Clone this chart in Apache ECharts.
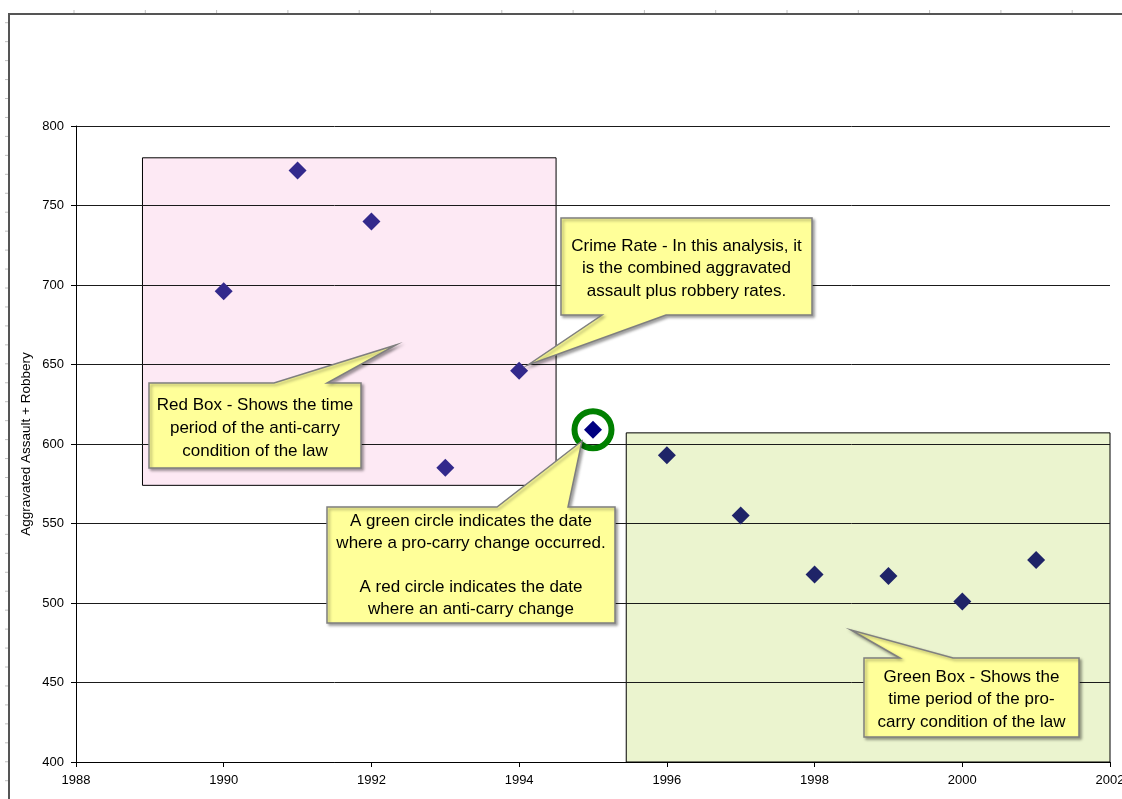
<!DOCTYPE html>
<html>
<head>
<meta charset="utf-8">
<script src="https://cdn.jsdelivr.net/npm/echarts@6/dist/echarts.min.js"></script>
<style>
  html, body { margin: 0; padding: 0; background: #fff; }
  #chart { width: 1122px; height: 799px; }
</style>
</head>
<body>
<div id="chart"></div>
<script>
// ---- data ----
const years = [1990, 1991, 1992, 1993, 1994, 1995, 1996, 1997, 1998, 1999, 2000, 2001];
const crimeRate = [696, 772, 740, 585, 646, 609, 593, 555, 518, 517, 501, 527];
const proCarryChangeYears = [1995];
// boxes: [xStart, xEnd, yStart, yEnd]
const antiCarryBox = [1988.9, 1994.5, 574, 780];
const proCarryBox = [1995.45, 2002, 400, 607];
const yAxisName = 'Aggravated Assault + Robbery';

const calloutTexts = {
  crime: ['Crime Rate - In this analysis, it', 'is the combined aggravated', 'assault plus robbery rates.'],
  red: ['Red Box - Shows the time', 'period of the anti-carry', 'condition of the law'],
  circle: ['A green circle indicates the date', 'where a pro-carry change occurred.', '', 'A red circle indicates the date', 'where an anti-carry change'],
  green: ['Green Box - Shows the', 'time period of the pro-', 'carry condition of the law']
};

const points = years.map((y, i) => [y, crimeRate[i]]);
const ringPoints = proCarryChangeYears.map(y => [y, crimeRate[years.indexOf(y)]]);

const FONT = 'Arial, "Liberation Sans", sans-serif';
const chart = echarts.init(document.getElementById('chart'));

chart.setOption({
  animation: false,
  backgroundColor: '#ffffff',
  grid: { left: 76, right: 12, top: 126, bottom: 37, containLabel: false, outerBoundsMode: 'none' },
  xAxis: {
    type: 'value', min: 1988, max: 2002, interval: 2,
    axisLine: { show: true, lineStyle: { color: '#000', width: 1 } },
    axisTick: { show: true, length: 5, lineStyle: { color: '#000' } },
    splitLine: { show: false },
    axisLabel: { color: '#000', fontSize: 13, fontFamily: FONT, margin: 12, formatter: v => String(v), hideOverlap: false }
  },
  yAxis: {
    type: 'value', min: 400, max: 800, interval: 50,
    name: yAxisName, nameLocation: 'middle', nameGap: 43, nameMoveOverlap: false,
    nameTextStyle: { color: '#000', fontSize: 13.5, fontFamily: FONT },
    axisLine: { show: true, lineStyle: { color: '#000', width: 1 } },
    axisTick: { show: true, length: 5, lineStyle: { color: '#000' } },
    splitLine: { show: true, lineStyle: { color: '#1a1a1a', width: 1 } },
    axisLabel: { color: '#000', fontSize: 13, fontFamily: FONT, margin: 12, formatter: v => String(v) }
  },
  series: [
    {
      type: 'custom',
      z: -1,
      silent: true,
      data: [antiCarryBox.concat([0]), proCarryBox.concat([1])],
      renderItem: function (params, api) {
        const p0 = api.coord([api.value(0), api.value(3)]);
        const p1 = api.coord([api.value(1), api.value(2)]);
        const fills = ['#fde9f4', '#ebf4cf'];
        return {
          type: 'rect',
          shape: { x: p0[0], y: p0[1], width: p1[0] - p0[0], height: p1[1] - p0[1] },
          style: { fill: fills[api.value(4)], stroke: '#000', lineWidth: 1 }
        };
      },
      encode: { x: [0, 1], y: [2, 3] }
    },
    {
      type: 'scatter',
      data: ringPoints,
      symbol: 'circle',
      symbolSize: 37,
      z: 3,
      itemStyle: { color: 'rgba(0,0,0,0)', borderColor: '#008000', borderWidth: 6, opacity: 1 },
      silent: true
    },
    {
      type: 'scatter',
      data: points,
      symbol: 'diamond',
      symbolSize: 18,
      z: 4,
      itemStyle: {
        opacity: 1,
        color: function (p) {
          const yr = p.value[0];
          if (yr <= 1994) return '#33298c';
          if (proCarryChangeYears.indexOf(yr) >= 0) return '#000080';
          return '#1f2468';
        }
      }
    }
  ]
});

// ---- annotations (callouts) ----
function callout(box, wedge, side, lines, textTop, lh) {
  const [x0, y0, x1, y1] = box;
  const [wa, wb, tx, ty] = wedge;
  let pts;
  if (side === 'top') {
    pts = [[x0, y0], [wa, y0], [tx, ty], [wb, y0], [x1, y0], [x1, y1], [x0, y1]];
  } else {
    pts = [[x0, y0], [x1, y0], [x1, y1], [wb, y1], [tx, ty], [wa, y1], [x0, y1]];
  }
  const cx = (x0 + x1) / 2;
  const els = [{
    type: 'polygon', z: 100,
    shape: { points: pts },
    style: {
      fill: '#ffff99', stroke: '#7f7f7f', lineWidth: 1.5,
      shadowBlur: 3, shadowOffsetX: 2, shadowOffsetY: 2, shadowColor: 'rgba(0,0,0,0.35)'
    }
  }];
  lines.forEach((t, i) => {
    if (!t) return;
    els.push({
      type: 'text', z: 101,
      style: {
        text: t, x: cx, y: textTop + i * lh, align: 'center', verticalAlign: 'middle',
        fill: '#000', fontSize: 17, fontFamily: FONT
      }
    });
  });
  return els;
}

// outer frame with ruler ticks
const frame = [{
  type: 'polyline', z: 50,
  shape: { points: [[9, 799], [9, 14], [1122, 14]] },
  style: { stroke: '#555', lineWidth: 2, fill: null }
}];
for (let x = 74; x < 1122; x += 71.3) {
  frame.push({ type: 'line', z: 50, shape: { x1: x, y1: 10, x2: x, y2: 13 }, style: { stroke: '#c0c0c0', lineWidth: 1 } });
}
for (let y = 22.7; y < 799; y += 18.95) {
  frame.push({ type: 'line', z: 50, shape: { x1: 5, y1: y, x2: 8, y2: y }, style: { stroke: '#c0c0c0', lineWidth: 1 } });
}

chart.setOption({
  graphic: [].concat(
    frame,
    callout([561, 218, 812, 315], [602, 666, 528, 365], 'bottom', calloutTexts.crime, 246, 22.7),
    callout([149, 383, 361, 468], [274, 327, 396, 345], 'top', calloutTexts.red, 405, 23),
    callout([327, 507, 615, 623], [497, 568, 582, 441], 'top', calloutTexts.circle, 521, 22),
    callout([864, 658, 1079, 737], [900, 953, 851, 630], 'top', calloutTexts.green, 677, 22.5)
  )
});
</script>
</body>
</html>
